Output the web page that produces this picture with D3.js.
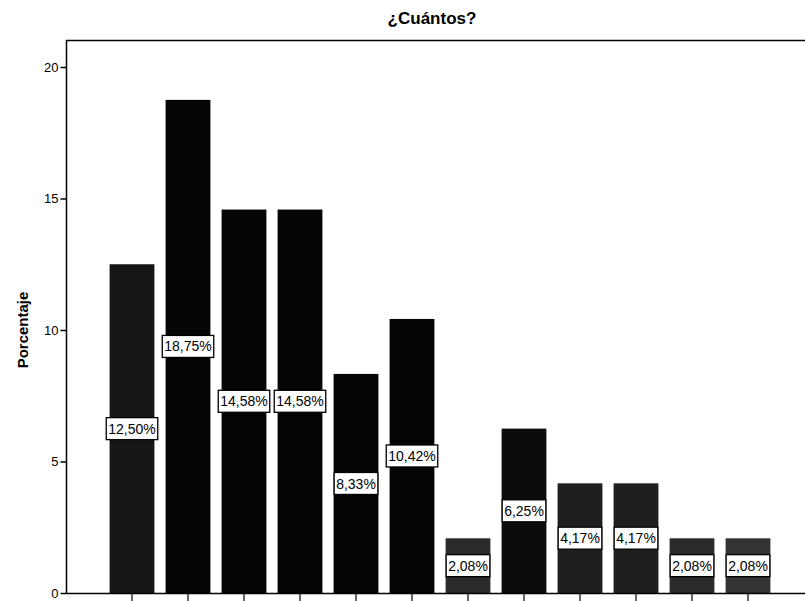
<!DOCTYPE html>
<html><head><meta charset="utf-8">
<script src="https://cdn.jsdelivr.net/npm/d3@7"></script>
<style>body{margin:0;background:#fff}svg{display:block;font-family:"Liberation Sans",Arial,sans-serif}</style>
</head><body>
<svg id="c" width="805" height="601"></svg>
<script>
const categories = ["1","2","3","4","5","6","7","8","9","10","11","12"];
const values = [12.50, 18.75, 14.58, 14.58, 8.33, 10.42, 2.08, 6.25, 4.17, 4.17, 2.08, 2.08];
const labels = ["12,50%","18,75%","14,58%","14,58%","8,33%","10,42%","2,08%","6,25%","4,17%","4,17%","2,08%","2,08%"];
const shades = ["#161616","#050505","#050505","#050505","#050505","#050505","#2a2a2a","#0c0c0c","#1e1e1e","#1e1e1e","#2a2a2a","#333333"];
const yTicks = [0,5,10,15,20];

const svg = d3.select("#c");
const y = d3.scaleLinear().domain([0,20]).range([593,67]);
const x = d3.scaleBand().domain(categories).range([104,776]).paddingInner(0.2).paddingOuter(0.1);

// frame
svg.append("line").attr("x1",66).attr("x2",805).attr("y1",40.5).attr("y2",40.5).attr("stroke","#000").attr("stroke-width",1.5);

// bars
svg.selectAll("rect.bar").data(values).join("rect").attr("class","bar")
  .attr("x",(d,i)=>x(categories[i])).attr("width",x.bandwidth())
  .attr("y",d=>y(d)).attr("height",d=>y(0)-y(d))
  .attr("fill",(d,i)=>shades[i]);

// y axis
const ya = svg.append("g").attr("transform","translate(66.5,0)")
  .call(d3.axisLeft(y).tickValues(yTicks).tickSize(6).tickPadding(2).tickFormat(d3.format("d")));
ya.select(".domain").attr("d","M0,40V593").attr("stroke-width",1.5);
ya.selectAll("text").attr("font-size",13).attr("font-family","Liberation Sans, Arial").attr("fill","#000");
ya.selectAll(".tick line").attr("stroke-width",1.5);

// x axis
const xa = svg.append("g").attr("transform","translate(0,593.5)")
  .call(d3.axisBottom(x).tickSize(8).tickFormat(""));
xa.select(".domain").attr("d","M66,0H805").attr("stroke-width",1.5);
xa.selectAll(".tick line").attr("stroke-width",1.2);

// value labels
const lab = svg.selectAll("g.lab").data(values).join("g").attr("class","lab")
  .attr("transform",(d,i)=>`translate(${x(categories[i])+x.bandwidth()/2},${(y(d)+y(0))/2})`);
lab.append("text").text((d,i)=>labels[i]).attr("text-anchor","middle").attr("dy","0.36em")
  .attr("font-size",14).attr("fill","#000");
lab.each(function(){
  const g=d3.select(this); const b=g.select("text").node().getBBox();
  g.insert("rect","text").attr("x",b.x-2).attr("y",-11).attr("width",b.width+4).attr("height",22)
   .attr("fill","#fff").attr("stroke","#000").attr("stroke-width",1.3);
});

// titles
svg.append("text").attr("x",432).attr("y",24).attr("text-anchor","middle")
  .attr("font-size",17).attr("font-weight","bold").text("¿Cuántos?");
svg.append("text").attr("transform","translate(28,330) rotate(-90)").attr("text-anchor","middle")
  .attr("font-size",15).attr("font-weight","bold").text("Porcentaje");
</script>
</body></html>
